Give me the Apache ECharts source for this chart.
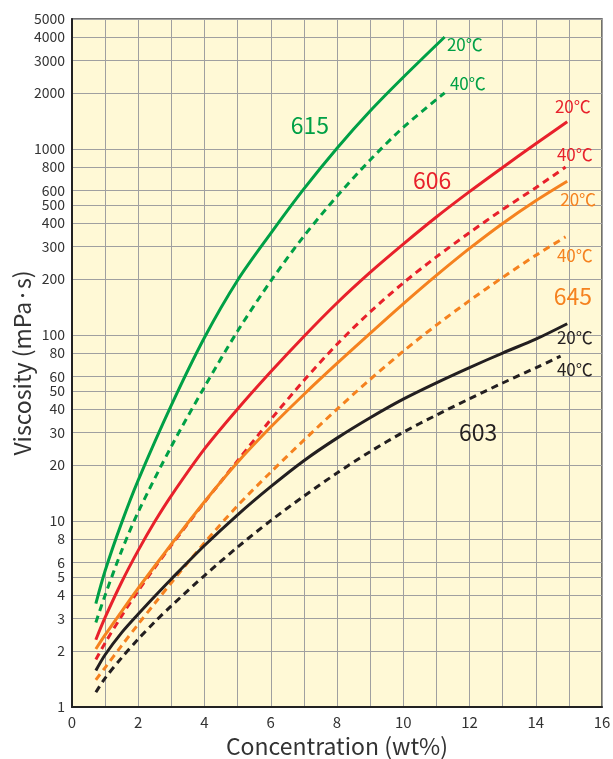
<!DOCTYPE html>
<html>
<head>
<meta charset="utf-8">
<title>Viscosity vs Concentration</title>
<script src="https://cdn.jsdelivr.net/npm/echarts@6/dist/echarts.min.js"></script>
<style>
  html, body { margin: 0; padding: 0; background: #fff; }
  #chart { width: 613px; height: 759px; }
</style>
</head>
<body>
<div id="chart"></div>
<script>
// concentration (wt%) -> viscosity (mPa·s)
const conc615_20 = [0.72, 1, 1.5, 2, 3, 4, 5, 6, 7, 8, 9, 10, 11.25];
const visc615_20 = [3.6, 5.4, 9.8, 16.6, 42, 97, 197, 352, 610, 1010, 1600, 2430, 4000];
const conc615_40 = [0.72, 1, 1.5, 2, 3, 4, 5, 6, 7, 8, 9, 10, 11.25];
const visc615_40 = [2.85, 3.99, 6.93, 11.2, 25.2, 52.6, 105, 195, 340, 557, 873, 1306, 2005];

const conc606_20 = [0.72, 1, 1.5, 2, 2.5, 3, 4, 5, 6, 7, 8, 9, 10, 11, 12, 13, 14, 14.95];
const visc606_20 = [2.3, 3.03, 4.7, 6.95, 9.93, 13.7, 24.4, 40, 63.4, 98.2, 148.6, 217, 308, 431, 590, 796, 1067, 1403];
const conc606_40 = [0.72, 1, 1.5, 2, 2.5, 3, 4, 5, 6, 7, 8, 9, 10, 11, 12, 13, 14, 14.9];
const visc606_40 = [1.8, 2.21, 3.09, 4.22, 5.62, 7.41, 12.6, 21.1, 35.1, 56.9, 89.1, 133, 190.5, 263, 355, 473, 619, 800];

const conc645_20 = [0.72, 1, 1.5, 2, 2.5, 3, 4, 5, 6, 7, 8, 9, 10, 11, 12, 13, 14, 14.95];
const visc645_20 = [2.05, 2.44, 3.27, 4.35, 5.73, 7.5, 12.7, 20.7, 32, 47.9, 70.3, 102, 147, 209, 292, 398, 527, 671];
const conc645_40 = [0.72, 1, 1.5, 2, 2.5, 3, 4, 5, 6, 7, 8, 9, 10, 11, 12, 13, 14, 14.9];
const visc645_40 = [1.4, 1.63, 2.14, 2.79, 3.61, 4.66, 7.64, 12.1, 18.3, 27.2, 39.9, 57.7, 81.8, 113, 153, 204, 268, 337];

const conc603_20 = [0.72, 1, 1.5, 2, 2.5, 3, 4, 5, 6, 7, 8, 9, 10, 11, 12, 13, 14, 14.95];
const visc603_20 = [1.57, 1.91, 2.51, 3.16, 3.94, 4.88, 7.38, 10.8, 15.3, 21.1, 27.9, 35.9, 45.2, 55.3, 66.8, 80, 95, 115];
const conc603_40 = [0.72, 1, 1.5, 2, 2.5, 3, 4, 5, 6, 7, 8, 9, 10, 11, 12, 13, 14, 14.75];
const visc603_40 = [1.2, 1.43, 1.84, 2.32, 2.87, 3.5, 5.09, 7.24, 10.05, 13.6, 18.1, 23.6, 30, 37.1, 45.4, 55.2, 66.6, 77];

// y axis tick values (log scale)
const yTickValues = [1, 2, 3, 4, 5, 6, 8, 10, 20, 30, 40, 50, 60, 80, 100, 200, 300, 400, 500, 600, 800,
  1000, 2000, 3000, 4000, 5000];

// text annotations placed in data space: [text, conc, viscosity, colour, size]
const annotations = [
  ['615', 7.18, 1346, '#00a046', 23],
  ['606', 10.87, 681, '#e8212b', 23],
  ['645', 15.12, 162, '#f5821f', 23],
  ['603', 12.26, 30, '#231f20', 23],
  ['20℃', 11.86, 3623, '#00a046', 17],
  ['40℃', 11.95, 2236, '#00a046', 17],
  ['20℃', 15.12, 1683, '#e8212b', 17],
  ['40℃', 15.18, 929, '#e8212b', 17],
  ['20℃', 15.28, 532, '#f5821f', 17],
  ['40℃', 15.18, 269, '#f5821f', 17],
  ['20℃', 15.18, 97.5, '#231f20', 17],
  ['40℃', 15.18, 65.6, '#231f20', 17]
];

const GREEN = '#00a046';
const RED = '#e8212b';
const ORANGE = '#f5821f';
const BLACK = '#231f20';
const FONT = '"Noto Sans CJK JP", "Noto Sans", sans-serif';

function toPoints(xs, ys) {
  return xs.map((x, i) => [x, Math.log10(ys[i])]);
}

function curve(name, xs, ys, color, dashed) {
  return {
    name: name,
    type: 'line',
    data: toPoints(xs, ys),
    smooth: 0.3,
    symbol: 'none',
    silent: true,
    lineStyle: {
      color: color,
      width: 3,
      type: dashed ? [7, 5] : 'solid',
      cap: 'butt'
    },
    z: 3
  };
}

const chart = echarts.init(document.getElementById('chart'), null, { renderer: 'canvas' });

chart.setOption({
  animation: false,
  backgroundColor: '#ffffff',
  textStyle: { fontFamily: FONT },
  grid: {
    left: 72,
    right: 11,
    top: 19,
    bottom: 52,
    show: true,
    backgroundColor: '#fff9d6',
    borderColor: '#444',
    borderWidth: 1.5,
    outerBoundsMode: 'none'
  },
  xAxis: {
    type: 'value',
    min: 0,
    max: 16,
    interval: 1,
    name: 'Concentration (wt%)',
    nameLocation: 'middle',
    nameGap: 27,
    nameTextStyle: { fontSize: 23, color: '#333', fontFamily: FONT },
    axisLine: { show: true, lineStyle: { color: '#222', width: 2 } },
    axisTick: { show: false },
    axisLabel: {
      color: '#333',
      fontSize: 15,
      margin: 8,
      fontFamily: FONT,
      formatter: (v) => (v % 2 === 0 ? String(v) : '')
    },
    splitLine: { show: true, lineStyle: { color: '#a0a0a0', width: 1 } }
  },
  yAxis: {
    type: 'value',
    min: 0,
    max: Math.log10(5000),
    name: 'Viscosity (mPa·s)',
    nameLocation: 'middle',
    nameGap: 38,
    nameRotate: 90,
    nameMoveOverlap: false,
    nameTextStyle: { fontSize: 23, color: '#333', fontFamily: FONT },
    axisLine: { show: true, lineStyle: { color: '#222', width: 2 } },
    axisTick: { show: false, customValues: yTickValues.map((v) => Math.log10(v)) },
    axisLabel: {
      color: '#333',
      fontSize: 14,
      margin: 7,
      fontFamily: FONT,
      customValues: yTickValues.map((v) => Math.log10(v)),
      formatter: (v) => String(Math.round(Math.pow(10, v)))
    },
    splitLine: { show: true, lineStyle: { color: '#a0a0a0', width: 1 } }
  },
  series: [
    curve('615 20℃', conc615_20, visc615_20, GREEN, false),
    curve('615 40℃', conc615_40, visc615_40, GREEN, true),
    curve('606 20℃', conc606_20, visc606_20, RED, false),
    curve('606 40℃', conc606_40, visc606_40, RED, true),
    curve('645 20℃', conc645_20, visc645_20, ORANGE, false),
    curve('645 40℃', conc645_40, visc645_40, ORANGE, true),
    curve('603 20℃', conc603_20, visc603_20, BLACK, false),
    curve('603 40℃', conc603_40, visc603_40, BLACK, true)
  ]
});

// annotations positioned through the grid's own coordinate system
chart.setOption({
  graphic: annotations.map((a) => {
    const p = chart.convertToPixel({ gridIndex: 0 }, [a[1], Math.log10(a[2])]);
    return {
      type: 'text',
      x: p[0],
      y: p[1],
      z: 10,
      style: {
        text: a[0],
        fill: a[3],
        font: a[4] + 'px ' + FONT,
        align: 'center',
        verticalAlign: 'middle'
      }
    };
  })
});

window.addEventListener('resize', () => chart.resize());
</script>
</body>
</html>
